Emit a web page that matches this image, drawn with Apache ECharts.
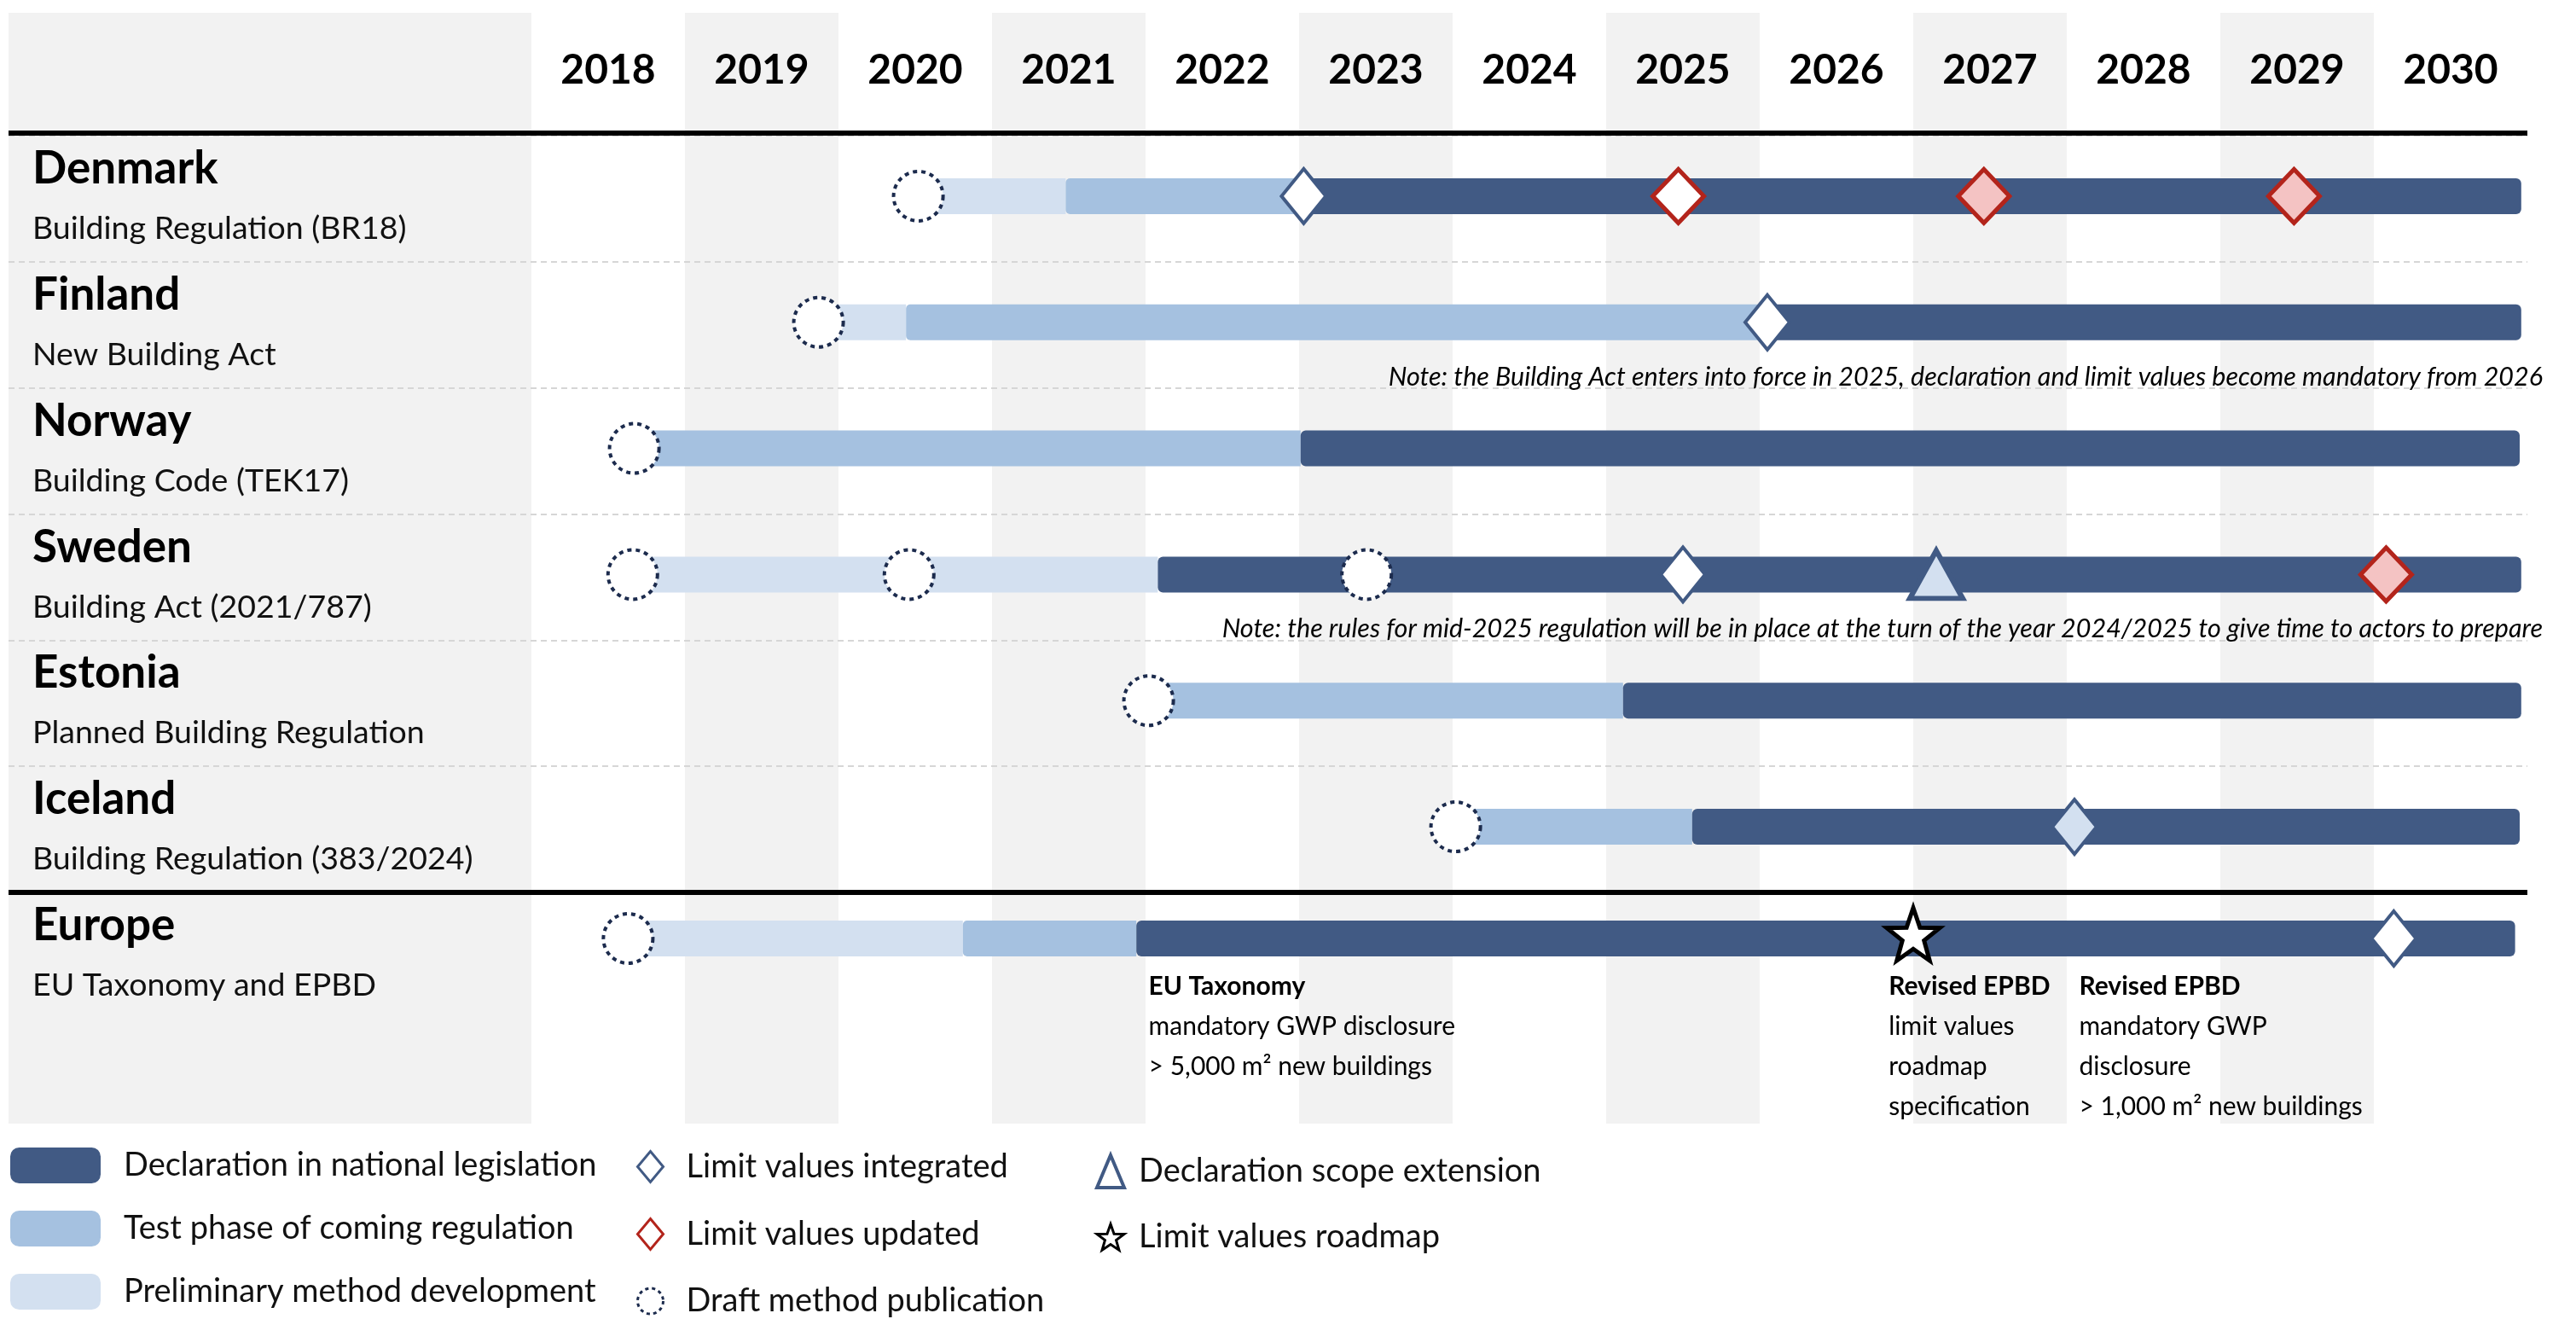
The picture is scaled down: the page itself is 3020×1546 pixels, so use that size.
<!DOCTYPE html>
<html><head><meta charset="utf-8">
<script src="https://cdn.jsdelivr.net/npm/echarts@6/dist/echarts.min.js"></script>
<style>html,body{margin:0;padding:0;background:#fff}#chart{width:3020px;height:1546px}</style>
</head><body><div id="chart"></div>
<script>
// ---------------- data ----------------
const years = ['2018','2019','2020','2021','2022','2023','2024','2025','2026','2027','2028','2029','2030'];
const rows = ['Denmark','Finland','Norway','Sweden','Estonia','Iceland'];
const regulations = ['Building Regulation (BR18)','New Building Act','Building Code (TEK17)','Building Act (2021/787)','Planned Building Regulation','Building Regulation (383/2024)'];
const europeRow = ['Europe'];
const europeRegulation = ['EU Taxonomy and EPBD'];

// phases: [row, start (decimal year), end (decimal year)]
const preliminaryPhase = [
  ['Denmark', 2020.52, 2021.48],
  ['Finland', 2019.87, 2020.44],
  ['Sweden', 2018.66, 2022.08],
  ['Europe', 2018.63, 2020.81]
];
const testPhase = [
  ['Denmark', 2021.48, 2023.03],
  ['Finland', 2020.44, 2026.05],
  ['Norway', 2018.67, 2023.01],
  ['Estonia', 2022.02, 2025.11],
  ['Iceland', 2024.02, 2025.56],
  ['Europe', 2020.81, 2021.94]
];
const declarationPhase = [
  ['Denmark', 2023.03, 2030.96],
  ['Finland', 2026.05, 2030.96],
  ['Norway', 2023.01, 2030.95],
  ['Sweden', 2022.08, 2030.96],
  ['Estonia', 2025.11, 2030.96],
  ['Iceland', 2025.56, 2030.95],
  ['Europe', 2021.94, 2030.92]
];
// milestones: [row, decimal year]
const draftPublications = [
  ['Denmark', 2020.52], ['Finland', 2019.87], ['Norway', 2018.67],
  ['Sweden', 2018.66], ['Sweden', 2020.46], ['Sweden', 2023.44],
  ['Estonia', 2022.02], ['Iceland', 2024.02], ['Europe', 2018.63]
];
const limitIntegrated = [['Denmark', 2023.03], ['Finland', 2026.05], ['Sweden', 2025.5], ['Europe', 2030.13]];
const limitIntegratedPlanned = [['Iceland', 2028.05]];
const limitUpdated = [['Denmark', 2025.47]];
const limitUpdatedPlanned = [['Denmark', 2027.46], ['Denmark', 2029.48], ['Sweden', 2030.08]];
const scopeExtension = [['Sweden', 2027.15]];
const limitRoadmap = [['Europe', 2027.0]];

const rowNotes = [
  ['Finland', 'Note: the Building Act enters into force in 2025, declaration and limit values become mandatory from 2026'],
  ['Sweden', 'Note: the rules for mid-2025 regulation will be in place at the turn of the year 2024/2025 to give time to actors to prepare']
];
const europeNotes = [
  ['Europe', 2022.02, 'EU Taxonomy', ['mandatory GWP disclosure', '> 5,000 m² new buildings']],
  ['Europe', 2026.84, 'Revised EPBD', ['limit values', 'roadmap', 'specification']],
  ['Europe', 2028.08, 'Revised EPBD', ['mandatory GWP', 'disclosure', '> 1,000 m² new buildings']]
];

// ---------------- style ----------------
const FONT = 'Lato';
const DARK = '#415a84', MID = '#a5c1e0', LIGHT = '#d3e0f0';
const RED = '#b3241b', PINK = '#f4c3c3', NAVY = '#1c2b4d';
const BAR_H = 42;
const STAR = 'path://M0,-100 L24,-32 L95,-31 L39,12 L59,81 L0,41 L-59,81 L-39,12 L-95,-31 L-24,-32 Z';

const chart = echarts.init(document.getElementById('chart'));

const isEU = d => d[0] === 'Europe';
const grids = [
  { idx: 2, filter: d => !isEU(d), offset: -3 },
  { idx: 3, filter: isEU, offset: -20 }
];

const series = [];

function addBars(name, arr, color, radius, z) {
  grids.forEach(g => {
    const data = arr.filter(g.filter);
    if (!data.length) return;
    series.push({
      type: 'custom', name, xAxisIndex: g.idx, yAxisIndex: g.idx, z,
      itemStyle: { color }, encode: { x: [1, 2], y: 0 }, data,
      renderItem(params, api) {
        const r = api.value(0);
        const a = api.coord([api.value(1), r]);
        const b = api.coord([api.value(2), r]);
        return {
          type: 'rect',
          shape: { x: a[0], y: a[1] + g.offset - BAR_H / 2, width: b[0] - a[0], height: BAR_H, r: radius },
          style: { fill: color }
        };
      }
    });
  });
}
addBars('Preliminary method development', preliminaryPhase, LIGHT, 0, 2);
addBars('Test phase of coming regulation', testPhase, MID, [5, 0, 0, 5], 3);
addBars('Declaration in national legislation', declarationPhase, DARK, 6, 4);

function addMarkers(name, arr, symbol, size, style, extra) {
  grids.forEach(g => {
    const data = arr.filter(g.filter);
    if (!data.length) return;
    series.push({
      type: 'scatter', name, xAxisIndex: g.idx, yAxisIndex: g.idx, z: 6,
      encode: { x: 1, y: 0 }, data, symbol, symbolSize: size,
      symbolOffset: [0, g.offset + (extra || 0)],
      itemStyle: Object.assign({ opacity: 1 }, style),
      emphasis: { disabled: true }
    });
  });
}
addMarkers('Limit values integrated', limitIntegrated, 'diamond', [52, 64], { color: '#ffffff', borderColor: DARK, borderWidth: 4 });
addMarkers('Limit values integrated', limitIntegratedPlanned, 'diamond', [52, 64], { color: LIGHT, borderColor: DARK, borderWidth: 4 });
addMarkers('Limit values updated', limitUpdated, 'diamond', [60, 63], { color: '#ffffff', borderColor: RED, borderWidth: 5 });
addMarkers('Limit values updated', limitUpdatedPlanned, 'diamond', [60, 63], { color: PINK, borderColor: RED, borderWidth: 5 });
addMarkers('Draft method publication', draftPublications, 'circle', 58, { color: '#ffffff', borderColor: NAVY, borderWidth: 4, borderType: [5, 5] });
addMarkers('Declaration scope extension', scopeExtension, 'triangle', [62, 56], { color: LIGHT, borderColor: DARK, borderWidth: 6 });
addMarkers('Limit values roadmap', limitRoadmap, STAR, [62, 62], { color: '#ffffff', borderColor: '#000', borderWidth: 5 }, -5);

// notes under Finland / Sweden rows
series.push({
  type: 'custom', xAxisIndex: 2, yAxisIndex: 2, z: 7, silent: true,
  encode: { x: 1, y: 0 }, data: rowNotes.map(n => [n[0], 2031]),
  renderItem(params, api) {
    const p = api.coord([api.value(1), api.value(0)]);
    return {
      type: 'text', x: p[0] + 18, y: p[1] + 61,
      style: { text: rowNotes[params.dataIndex][1], fill: '#000', fontFamily: FONT, fontStyle: 'italic', fontSize: 30.5, align: 'right', verticalAlign: 'middle' }
    };
  }
});
// Europe annotations
series.push({
  type: 'custom', xAxisIndex: 3, yAxisIndex: 3, z: 7, silent: true,
  encode: { x: 1, y: 0 }, data: europeNotes.map(n => [n[0], n[1]]),
  renderItem(params, api) {
    const n = europeNotes[params.dataIndex];
    const p = api.coord([api.value(1), api.value(0)]);
    const txt = '{b|' + n[2] + '}\n' + n[3].map(l => '{n|' + l + '}').join('\n');
    return {
      type: 'text', x: p[0], y: p[1] - 20 + 56 - 23.5,
      style: {
        text: txt, align: 'left', verticalAlign: 'top', fill: '#000', fontFamily: FONT, fontSize: 30,
        rich: {
          b: { fontFamily: FONT, fontSize: 30, fontWeight: 'bold', lineHeight: 47, fill: '#000' },
          n: { fontFamily: FONT, fontSize: 30, lineHeight: 47, fill: '#000' }
        }
      }
    };
  }
});

const rowLabel = (title, sub) => '{t|' + title + '}\n{s|' + sub + '}';
const labelRich = {
  t: { fontFamily: FONT, fontSize: 53, fontWeight: 'bold', color: '#000', lineHeight: 70 },
  s: { fontFamily: FONT, fontSize: 37.5, color: '#111', lineHeight: 70 }
};
const hiddenVal = (gi) => ({ gridIndex: gi, type: 'value', show: false, min: 2018, max: 2031 });

const legendText = { fontFamily: FONT, fontSize: 38, color: '#111', lineHeight: 36 };

chart.setOption({
  animation: false,
  backgroundColor: '#ffffff',
  grid: [
    { left: 623, right: 57, top: 15, bottom: 229 },
    { left: 10, right: 57, top: 159, height: 887 },
    { left: 623, right: 57, top: 159, height: 887 },
    { left: 623, right: 57, top: 1046, height: 148 }
  ],
  xAxis: [
    {
      gridIndex: 0, type: 'category', data: years, position: 'top', boundaryGap: true, z: 0,
      axisLine: { show: false }, axisTick: { show: false }, splitLine: { show: false },
      axisLabel: { inside: true, margin: 68, interval: 0, verticalAlign: 'middle', fontFamily: FONT, fontSize: 48, fontWeight: 'bold', color: '#000' },
      splitArea: { show: true, interval: 0, areaStyle: { color: ['#ffffff', '#f2f2f2'] } }
    },
    { gridIndex: 1, type: 'value', show: false, min: 0, max: 1 },
    hiddenVal(2),
    hiddenVal(3)
  ],
  yAxis: [
    { gridIndex: 0, type: 'value', show: false, min: 0, max: 1 },
    {
      gridIndex: 1, type: 'category', data: rows, inverse: true, z: 1,
      axisLine: { show: false }, axisTick: { show: false }, axisLabel: { show: false },
      splitLine: { show: true, interval: 0, lineStyle: { color: '#d6d6d6', width: 2, type: [7, 5] } }
    },
    {
      gridIndex: 2, type: 'category', data: rows, inverse: true, z: 3,
      axisLine: { show: false }, axisTick: { show: false }, splitLine: { show: false },
      axisLabel: { interval: 0, align: 'left', margin: 585, formatter: (v, i) => rowLabel(v, regulations[i]), rich: labelRich }
    },
    {
      gridIndex: 3, type: 'category', data: europeRow, inverse: true, z: 3,
      axisLine: { show: false }, axisTick: { show: false }, splitLine: { show: false },
      axisLabel: { interval: 0, align: 'left', margin: 585, formatter: (v, i) => rowLabel(v, europeRegulation[i]), rich: labelRich }
    }
  ],
  legend: [
    {
      data: ['Declaration in national legislation', 'Test phase of coming regulation', 'Preliminary method development'],
      orient: 'vertical', left: 12, top: 1345, height: 400, padding: 0, itemWidth: 106, itemHeight: 42, itemGap: 32, icon: 'roundRect',
      selectedMode: false, textStyle: Object.assign({}, legendText, { padding: [0, 0, 0, 22] })
    },
    {
      data: [
        'Limit values integrated',
        'Limit values updated',
        { name: 'Draft method publication', itemStyle: { borderType: [4, 4], borderWidth: 3 } }
      ],
      orient: 'vertical', left: 746, top: 1348, height: 400, padding: 0, itemWidth: 30, itemHeight: 36, itemGap: 40,
      selectedMode: false, itemStyle: { borderWidth: 3 }, textStyle: Object.assign({}, legendText, { padding: [0, 0, 0, 22] })
    },
    {
      data: [
        { name: 'Declaration scope extension', itemStyle: { color: '#ffffff', borderWidth: 4 } },
        'Limit values roadmap'
      ],
      orient: 'vertical', left: 1284, top: 1352, height: 400, padding: 0, itemWidth: 32, itemHeight: 38, itemGap: 37,
      selectedMode: false, itemStyle: { borderWidth: 3 }, textStyle: Object.assign({}, legendText, { padding: [0, 0, 0, 12] })
    }
  ],
  graphic: [
    { type: 'rect', z: -1, silent: true, shape: { x: 10, y: 15, width: 613, height: 1302 }, style: { fill: '#f2f2f2' } },
    { type: 'rect', z: 20, silent: true, shape: { x: 10, y: 153, width: 2953, height: 6 }, style: { fill: '#000' } },
    { type: 'rect', z: 20, silent: true, shape: { x: 10, y: 1043, width: 2953, height: 6 }, style: { fill: '#000' } }
  ],
  series
});
</script></body></html>
